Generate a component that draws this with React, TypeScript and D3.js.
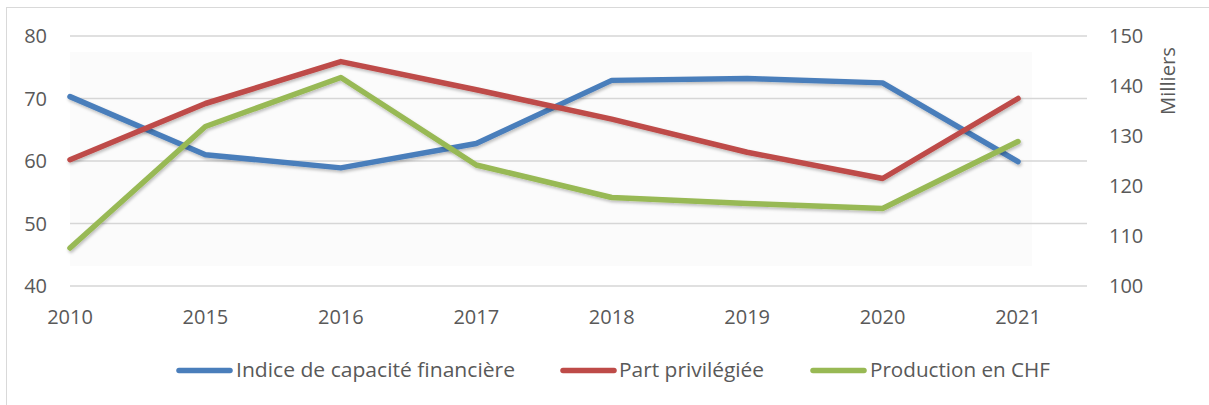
import React from "react";
import * as d3 from "d3";

const years = ["2010", "2015", "2016", "2017", "2018", "2019", "2020", "2021"];
const indiceCapacite = [70.3, 61.0, 58.9, 62.8, 72.9, 73.2, 72.5, 59.9];
const partPrivilegiee = [60.2, 69.2, 75.9, 71.4, 66.7, 61.4, 57.2, 70.0];
const productionCHF = [107.6, 131.9, 141.7, 124.2, 117.7, 116.5, 115.5, 128.9];
const leftTicks = [40, 50, 60, 70, 80];
const rightTicks = [100, 110, 120, 130, 140, 150];
const legendLabels = ["Indice de capacité financière", "Part privilégiée", "Production en CHF"];
const colors = ["#4A7EBB", "#BE4B48", "#98B954"];

export default function App() {
  const x = d3.scalePoint<string>().domain(years).range([70, 1018]);
  const yL = d3.scaleLinear().domain([40, 80]).range([286, 36]);
  const yR = d3.scaleLinear().domain([100, 150]).range([286, 36]);

  const lineL = d3.line<number>().x((_, i) => x(years[i])!).y((d) => yL(d));
  const lineR = d3.line<number>().x((_, i) => x(years[i])!).y((d) => yR(d));

  const series = [
    { path: lineL(indiceCapacite), color: colors[0] },
    { path: lineL(partPrivilegiee), color: colors[1] },
    { path: lineR(productionCHF), color: colors[2] },
  ];

  const legend = [
    { x0: 176, tx: 236, w: 279 },
    { x0: 560, tx: 619, w: 145 },
    { x0: 810, tx: 870, w: 180 },
  ];

  const font = "'Open Sans', 'Liberation Sans', Arial, sans-serif";
  const textColor = "#595959";

  return (
    <svg
      width={1209}
      height={405}
      style={{ position: "absolute", left: 0, top: 0, background: "#fff" }}
      fontFamily={font}
    >
      <defs>
        <filter id="sh" x="-5%" y="-20%" width="110%" height="140%">
          <feDropShadow dx="1" dy="2" stdDeviation="1.5" floodColor="#000" floodOpacity="0.25" />
        </filter>
      </defs>
      <rect x={6.5} y={7.5} width={1220} height={420} fill="#fff" stroke="#d9d9d9" strokeWidth={1} />
      <rect x={70} y={52} width={962} height={214} fill="#fbfbfb" />
      {leftTicks.map((t) => (
        <line key={t} x1={70} x2={1087} y1={yL(t)} y2={yL(t)} stroke="#d6d6d6" strokeWidth={1.3} />
      ))}
      {leftTicks.map((t) => (
        <text key={t} x={47} y={yL(t) + 7} textAnchor="end" fontSize={20} fill={textColor}>
          {t}
        </text>
      ))}
      {rightTicks.map((t) => (
        <text key={t} x={1109} y={yR(t) + 7} textAnchor="start" fontSize={20} fill={textColor}>
          {t}
        </text>
      ))}
      <text
        transform={`translate(1175,81) rotate(-90)`}
        textAnchor="middle"
        fontSize={20}
        fill={textColor}
        textLength={68}
        lengthAdjust="spacingAndGlyphs"
      >
        Milliers
      </text>
      {years.map((yv) => (
        <text key={yv} x={x(yv)!} y={324} textAnchor="middle" fontSize={20} fill={textColor}>
          {yv}
        </text>
      ))}
      {series.map((s, i) => (
        <path
          key={i}
          d={s.path || ""}
          fill="none"
          stroke={s.color}
          strokeWidth={5.5}
          strokeLinejoin="round"
          strokeLinecap="round"
          filter="url(#sh)"
        />
      ))}
      {legend.map((l, i) => (
        <g key={i}>
          <line x1={l.x0 + 3} x2={l.x0 + 54} y1={370.5} y2={370.5} stroke={colors[i]} strokeWidth={5.5} strokeLinecap="round" />
          <text
            x={l.tx}
            y={377}
            fontSize={20}
            fill={textColor}
            textLength={l.w}
            lengthAdjust="spacingAndGlyphs"
          >
            {legendLabels[i]}
          </text>
        </g>
      ))}
    </svg>
  );
}
